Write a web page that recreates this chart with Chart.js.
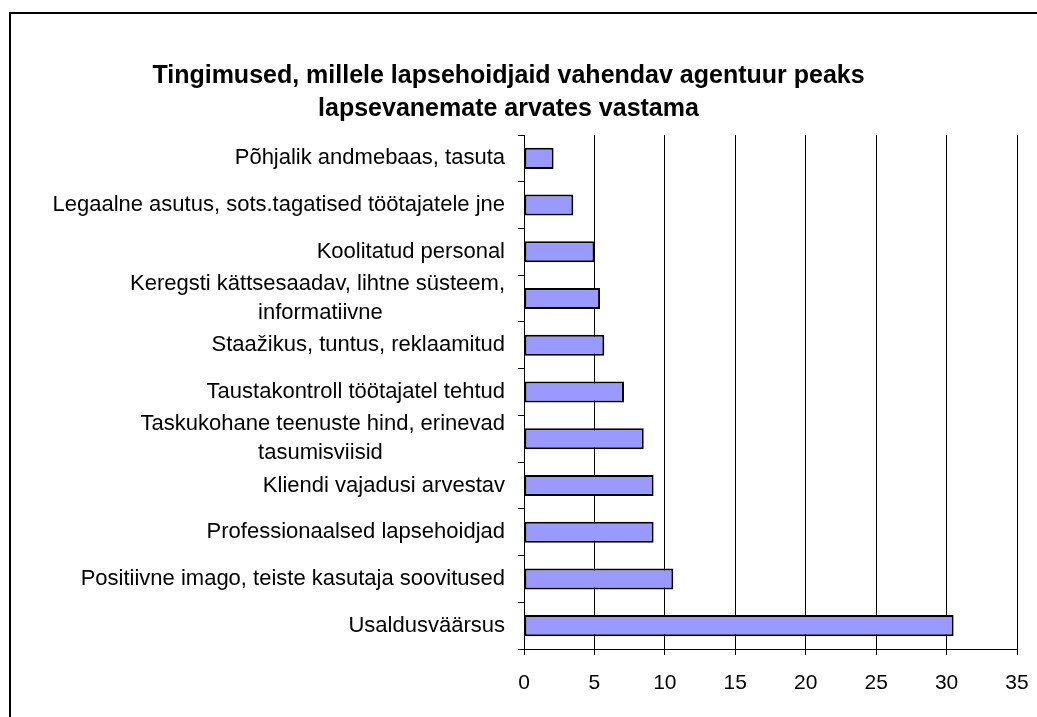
<!DOCTYPE html>
<html>
<head>
<meta charset="utf-8">
<script src="https://cdn.jsdelivr.net/npm/chart.js@4"></script>
<style>
    html, body { margin: 0; padding: 0; background: #fff; overflow: hidden; }
    #wrap { position: relative; width: 1037px; height: 717px; }
    #frame { position: absolute; left: 9px; top: 12px; width: 1100px; height: 800px; border: 2px solid #000; box-sizing: border-box; pointer-events: none; }
    #chart { position: absolute; left: 0; top: 0; }
</style>
</head>
<body>
<div id="wrap">
    <div id="frame"></div>
    <canvas id="chart" width="1037" height="717"></canvas>
</div>
<script>
// kategooriad (ülevalt alla)
const categories = [
    'Põhjalik andmebaas, tasuta',
    'Legaalne asutus, sots.tagatised töötajatele jne',
    'Koolitatud personal',
    ['Keregsti kättsesaadav, lihtne süsteem,', 'informatiivne'],
    'Staažikus, tuntus, reklaamitud',
    'Taustakontroll töötajatel tehtud',
    ['Taskukohane teenuste hind, erinevad', 'tasumisviisid'],
    'Kliendi vajadusi arvestav',
    'Professionaalsed lapsehoidjad',
    'Positiivne imago, teiste kasutaja soovitused',
    'Usaldusväärsus'
];
// väärtused (%)
const values = [2.1, 3.5, 5.0, 5.4, 5.7, 7.1, 8.5, 9.2, 9.2, 10.6, 30.5];
// x-telje vahemik
const xMin = 0;
const xMax = 35;
const xStep = 5;

const titleLines = [
    'Tingimused, millele lapsehoidjaid vahendav agentuur peaks',
    'lapsevanemate arvates vastama'
];

const fontFamily = '"Liberation Sans", Arial, sans-serif';
const labelFontSize = 22;

// mitmerealise sildi lühem rida keskele (täidetakse tühikutega paremalt)
const measureCtx = document.createElement('canvas').getContext('2d');
measureCtx.font = labelFontSize + 'px ' + fontFamily;
function centerLines(label) {
    if (!Array.isArray(label)) {
        return label;
    }
    const widest = Math.max(...label.map(l => measureCtx.measureText(l).width));
    const nbsp = measureCtx.measureText('\u00A0').width;
    return label.map(l => {
        const n = Math.round((widest - measureCtx.measureText(l).width) / 2 / nbsp);
        return l + '\u00A0'.repeat(n);
    });
}

const chartData = {
    labels: categories,
    datasets: [{
        data: values,
        backgroundColor: '#9999FF',
        borderColor: '#000000',
        borderWidth: 2,
        borderSkipped: false,
        barPercentage: 0.9,
        categoryPercentage: 0.5
    }]
};

const chartOption = {
    responsive: false,
    animation: false,
    indexAxis: 'y',
    layout: {
        padding: { left: 0, right: 20, top: 0, bottom: 0 }
    },
    plugins: {
        legend: { display: false },
        tooltip: { enabled: false },
        title: {
            display: true,
            text: titleLines,
            color: '#000',
            font: { family: fontFamily, size: 25, weight: 'bold', lineHeight: 1.32 },
            padding: { top: 60, bottom: 9 }
        }
    },
    scales: {
        x: {
            min: xMin,
            max: xMax,
            ticks: {
                stepSize: xStep,
                color: '#000',
                font: { family: fontFamily, size: 21, lineHeight: 2.4 },
                padding: 3
            },
            grid: {
                color: '#000',
                lineWidth: 1,
                tickLength: 6,
                drawTicks: true
            },
            border: { display: true, color: '#000', width: 1 },
            afterFit: function (scale) {
                scale.height = 68;
            }
        },
        y: {
            ticks: {
                color: '#000',
                font: { family: fontFamily, size: labelFontSize, lineHeight: 1.32 },
                padding: 13,
                autoSkip: false,
                callback: function (value) {
                    return centerLines(this.getLabelForValue(value));
                }
            },
            grid: {
                offset: true,
                drawOnChartArea: false,
                drawTicks: true,
                tickLength: 6,
                color: '#000'
            },
            border: { display: true, color: '#000', width: 1 },
            afterFit: function (scale) {
                scale.width = 524;
            }
        }
    }
};

new Chart(document.getElementById('chart'), {
    type: 'bar',
    data: chartData,
    options: chartOption
});
</script>
</body>
</html>
